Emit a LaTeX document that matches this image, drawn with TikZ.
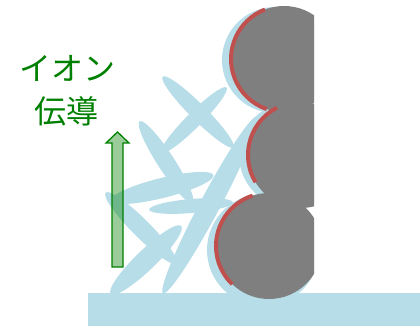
\documentclass[tikz,border=0pt]{standalone}
\usepackage{fontspec}
\usepackage{xcolor}
\newfontfamily\jafont{Noto Sans CJK JP}
\usetikzlibrary{shapes}

\definecolor{fiberblue}{RGB}{183,221,232}
\definecolor{grain}{RGB}{127,127,127}
\definecolor{coatred}{RGB}{192,80,77}
\definecolor{iongreen}{RGB}{0,128,0}

\tikzset{
  fiber/.style={ellipse, fill=fiberblue, inner sep=0pt},
  coat/.style={draw=coatred, line width=4pt}
}

\begin{document}
\begin{tikzpicture}[x=1pt,y=1pt]
\useasboundingbox (0,0) rectangle (420,327);
% fibres
\node [fiber, minimum width=100pt, minimum height=16pt, rotate=-45]
       (fiber1) at (198,215) {};
\node [fiber, minimum width=92pt, minimum height=15pt, rotate=45]
       (fiber2) at (194,207) {};
\node [fiber, minimum width=97pt, minimum height=17pt, rotate=-57]
       (fiber3) at (166,165) {};
\node [fiber, minimum width=106pt, minimum height=20pt, rotate=14]
       (fiber4) at (162,139) {};
\node [fiber, minimum width=84pt, minimum height=14pt, rotate=5]
       (fiber5) at (191,121) {};
\node [fiber, minimum width=200pt, minimum height=20pt, rotate=62]
       (fiber6) at (210,122) {};
\node [fiber, minimum width=100pt, minimum height=18pt, rotate=-45]
       (fiber7) at (141,99) {};
\node [fiber, minimum width=98pt, minimum height=20pt, rotate=44]
       (fiber8) at (146,67) {};
% current collector
\fill [fiberblue] (88,1) rectangle (420,34);
% active particles
\begin{scope}
\clip (0,0) rectangle (314,327);
\fill [fiberblue] (275,267) circle (53pt);
\fill [fiberblue] (292,172) circle (53pt);
\fill [fiberblue] (263,77) circle (56pt);
\fill [grain] (284,268) circle (53pt);
\fill [grain] (301,172) circle (53pt);
\fill [grain] (269,81) circle (53pt);
\draw [coat] ([shift={(111:53pt)}]284,268) arc [start angle=111, end angle=251, radius=53pt];
\draw [coat] ([shift={(117:53pt)}]301,172) arc [start angle=117, end angle=211, radius=53pt];
\draw [coat] ([shift={(108:53pt)}]269,81) arc [start angle=108, end angle=226, radius=53pt];
\end{scope}
% ion conduction
\draw [iongreen, line width=1.3pt, fill=iongreen, fill opacity=0.4]
      (112,60) -- (112,184) -- (106,184) -- (117.5,195) -- (129,184)
      -- (123,184) -- (123,60) -- cycle;
\node [text=iongreen, font=\jafont\fontsize{32}{43}\selectfont,
       align=center, inner sep=0pt]
       (ionlabel) at (67,236) {イオン\\伝導};
\end{tikzpicture}
\end{document}
